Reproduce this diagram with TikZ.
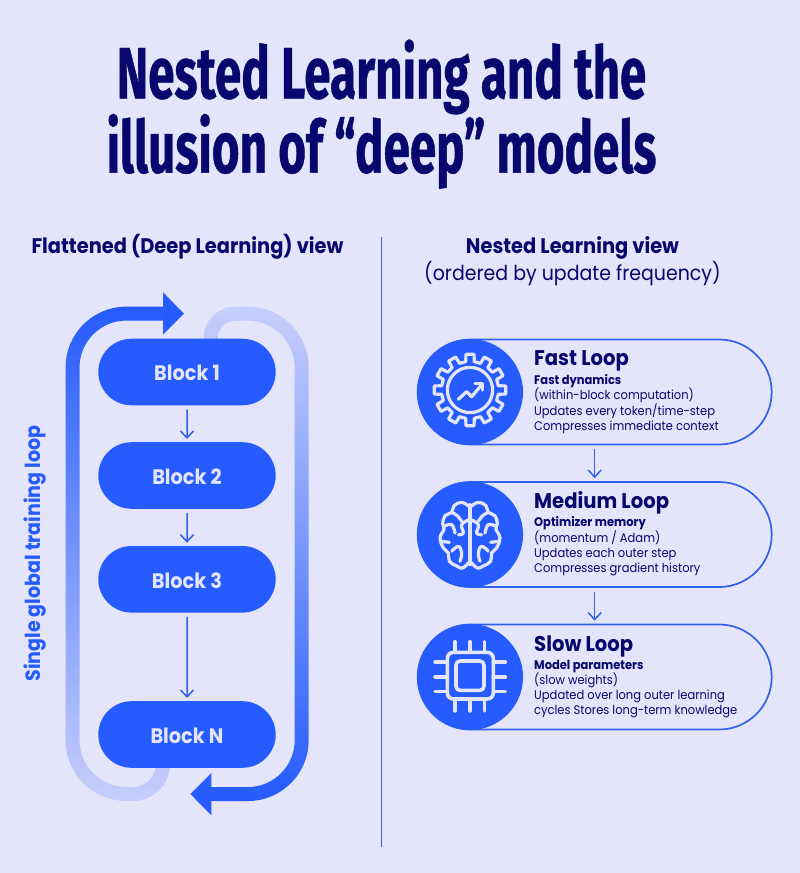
\documentclass[tikz,border=0pt]{standalone}
\usepackage{fontspec}
\usepackage{xcolor}
\usetikzlibrary{shapes.misc,arrows.meta,backgrounds,fadings}
\setmainfont{Poppins}[FakeStretch=0.92]
\newfontfamily\titlefont{Fira Sans}[FakeStretch=0.655,FakeBold=0.6]
\definecolor{pagebg}{HTML}{E4E4FB}
\definecolor{blockblue}{HTML}{255BFF}
\definecolor{linkblue}{HTML}{2F62EC}
\definecolor{navy}{HTML}{07076E}
\definecolor{paletext}{HTML}{E4E4FB}
\tikzfading[name=fadeleft, top color=transparent!0, bottom color=transparent!85]
\tikzfading[name=faderight, top color=transparent!85, bottom color=transparent!0]
\tikzset{
  blocknode/.style={rounded rectangle, fill=blockblue, text=paletext, minimum width=177.4pt,
    minimum height=66.6pt, inner sep=0pt, text height=17.4pt, text depth=0pt, font=\fontsize{21}{22}\selectfont\bfseries},
  flowlink/.style={draw=linkblue, line width=1.5pt, shorten <=4pt, shorten >=3pt, -{Straight Barb[length=7pt,width=13pt]}},
  trainloop/.style={draw=blockblue, line width=14pt, -{Triangle[length=21pt,width=41pt]}},
  looppill/.style={rounded rectangle, draw=linkblue, line width=1.7pt, minimum width=354pt,
    minimum height=105pt, inner sep=0pt},
  loopdisc/.style={circle, fill=blockblue, minimum size=106pt, inner sep=0pt, anchor=west},
  looptitle/.style={anchor=base west, text=navy, inner sep=0pt, font=\fontsize{21.3}{22}\selectfont\bfseries},
  looptext/.style={anchor=north west, align=left, text=navy, inner sep=0pt, font=\fontsize{12.5}{15}\selectfont},
  iconline/.style={draw=paletext, line width=3.2pt, line cap=round, line join=round},
  headtext/.style={text=navy, inner sep=0pt, anchor=base, font=\fontsize{21.1}{24}\selectfont\bfseries}
}
\begin{document}
\begin{tikzpicture}[x=1pt,y=-1pt]
\useasboundingbox (0,0) rectangle (800,873);

% title
\node[text=navy, inner sep=0pt, anchor=base] (titleone) at (381.5,98.3) {\titlefont\bfseries\fontsize{72.6}{74}\selectfont Nested Learning and the};
\node[text=navy, inner sep=0pt, anchor=base] (titletwo) at (381.5,172.7) {\titlefont\bfseries\fontsize{72.6}{74}\selectfont illusion of “deep” models};

% column heads
\node[headtext] (flathead) at (187.5,253) {Flattened (Deep Learning) view};
\node[headtext] (nesthead) at (572.5,253) {Nested Learning view};
\node[headtext, font=\fontsize{20.6}{24}\selectfont] (nestsub) at (572.5,280) {(ordered by update frequency)};
\draw[linkblue, line width=1.6pt] (381.5,237) -- (381.5,847);

% left column
\node[blocknode] (blockone) at (187,372) {Block 1};
\node[blocknode] (blocktwo) at (187,475.5) {Block 2};
\node[blocknode] (blockthree) at (187,579.3) {Block 3};
\node[blocknode] (blockn) at (187,734.5) {Block N};
\draw[flowlink] (blockone) -- (blocktwo);
\draw[flowlink] (blocktwo) -- (blockthree);
\draw[flowlink] (blockthree) -- (blockn);
\begin{scope}[on background layer]
\fill[pagebg] (0,0) rectangle (800,873);
\path[trainloop, path fading=fadeleft] ([xshift=-24pt]blockn.south) [rounded corners=30pt] -- (163,794) [rounded corners=54pt] -- (72.5,794) -- (72.5,313.3) [sharp corners] -- (184,313.3);
\path[trainloop, path fading=faderight] ([xshift=23.5pt]blockone.north) [rounded corners=25pt] -- (210.5,313.3) [rounded corners=54pt] -- (301.7,313.3) -- (301.7,794) [sharp corners] -- (190.3,794);
\end{scope}
\node[rotate=90, text=blockblue, inner sep=0pt, font=\fontsize{20.7}{24}\selectfont\bfseries] (looplabel) at (35,553.5) {Single global training loop};

% right column
\node[looppill] (fastpill) at (594.7,392) {};
\node[looppill] (mediumpill) at (594.7,534.5) {};
\node[looppill] (slowpill) at (594.7,677) {};
\node[loopdisc] (fastdisc) at (fastpill.west) {};
\node[loopdisc] (mediumdisc) at (mediumpill.west) {};
\node[loopdisc] (slowdisc) at (slowpill.west) {};
\draw[flowlink] (fastpill) -- (mediumpill);
\draw[flowlink] (mediumpill) -- (slowpill);

\node[looptitle] (fasttitle) at (534,365) {Fast Loop};
\node[looptext] (fasttext) at (534,374) {\textbf{Fast dynamics}\\(within-block computation)\\Updates every token/time-step\\Compresses immediate context};
\node[looptitle] (mediumtitle) at (534,508) {Medium Loop};
\node[looptext] (mediumtext) at (534,516) {\textbf{Optimizer memory}\\(momentum / Adam)\\Updates each outer step\\Compresses gradient history};
\node[looptitle] (slowtitle) at (534,651) {Slow Loop};
\node[looptext] (slowtext) at (534,660.5) {\textbf{Model parameters}\\(slow weights)\\Updated over long outer learning\\cycles Stores long-term knowledge};

% gear icon
\begin{scope}[shift={(470,390)}, x=0.333pt, y=-0.333pt]
\draw[iconline] (-8.5:86) \foreach \a in {0,30,...,330} { -- (\a-8.5:86) -- (\a-6.5:108) -- (\a+6.5:108) -- (\a+8.5:86) } -- cycle;
\draw[iconline] (0,0) circle (68);
\draw[iconline] (-35,28) -- (-10,5) -- (5,20) -- (37,-18);
\draw[iconline] (15,-20) -- (37,-20) -- (37,0);
\end{scope}

% brain icon
\begin{scope}[shift={(470,533)}, x=0.333pt, y=-0.333pt]
\foreach \s in {1,-1} {
\begin{scope}[xscale=\s]
\draw[iconline] plot[smooth, tension=.7] coordinates {(-3,-80) (-25,-92) (-48,-82) (-55,-62) (-75,-52) (-82,-28) (-78,-12) (-90,15) (-80,45) (-65,60) (-62,85) (-38,100) (-22,105) (-3,88)};
\draw[iconline] plot[smooth, tension=.7] coordinates {(-55,-62) (-38,-52) (-25,-35)};
\draw[iconline] plot[smooth, tension=.7] coordinates {(-3,-40) (-25,-25) (-20,0) (-35,5)};
\draw[iconline] plot[smooth, tension=.7] coordinates {(-78,-20) (-55,-25) (-45,0)};
\draw[iconline] (-87,25) -- (-62,28);
\draw[iconline] plot[smooth, tension=.7] coordinates {(-55,55) (-35,40) (-25,60) (-30,85)};
\end{scope}
}
\draw[iconline] (0,-85) -- (0,95);
\end{scope}

% chip icon
\begin{scope}[shift={(470,675)}, x=0.333pt, y=-0.333pt, iconline/.append style={line width=3.6pt}]
\draw[iconline, rounded corners=6pt] (-68,-68) rectangle (70,72);
\draw[iconline, rounded corners=4pt] (-42,-42) rectangle (42,46);
\foreach \d in {-45,0,43} {
  \draw[iconline] (\d,-100) -- (\d,-68);
  \draw[iconline] (\d,72) -- (\d,108);
  \draw[iconline] (-105,\d+6) -- (-68,\d+6);
  \draw[iconline] (70,\d+6) -- (106,\d+6);
}
\end{scope}
\end{tikzpicture}
\end{document}
